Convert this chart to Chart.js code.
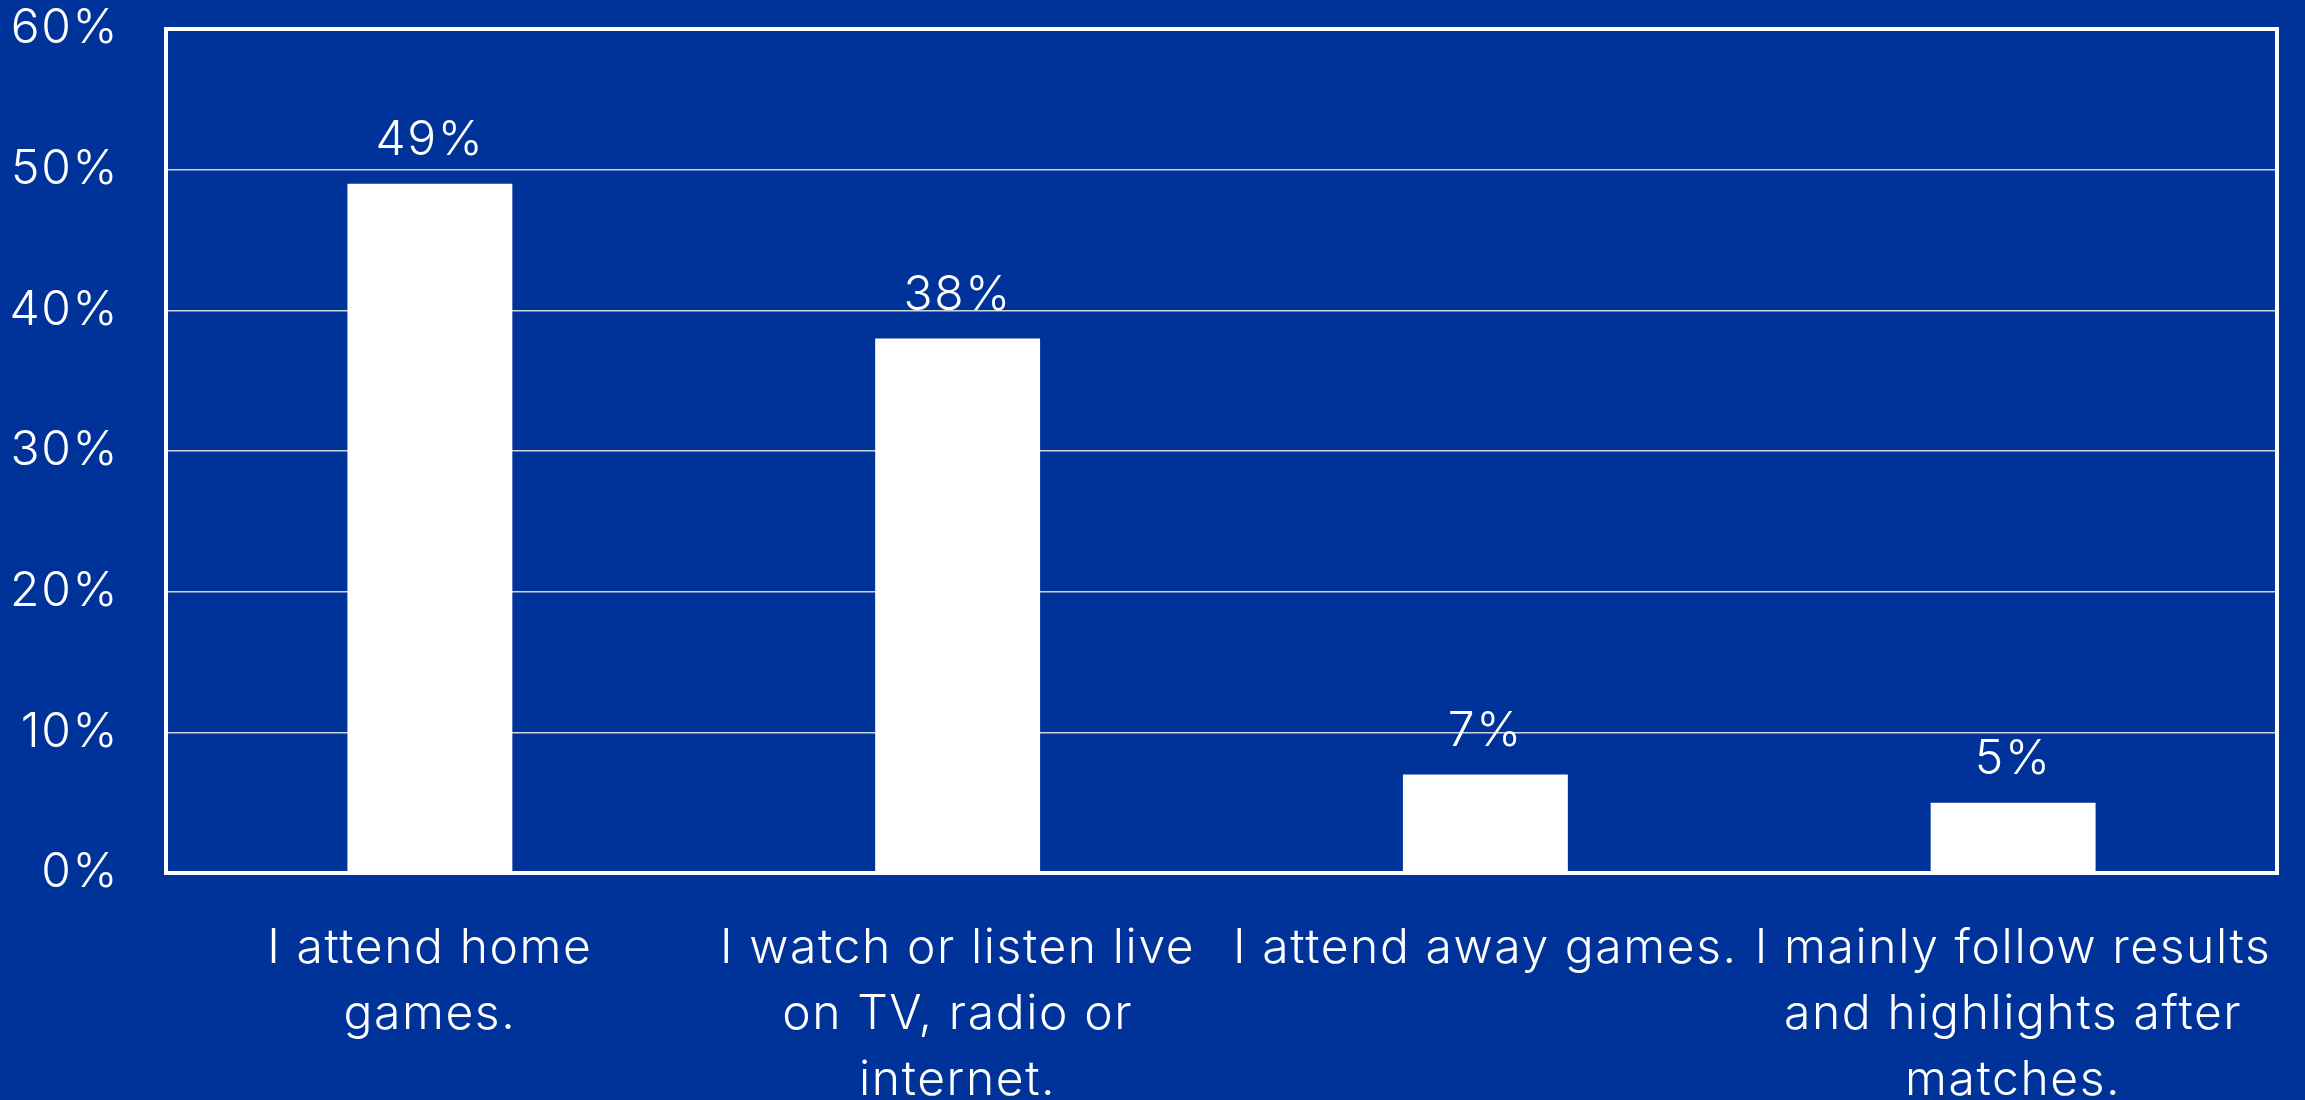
<!DOCTYPE html>
<html>
<head>
<meta charset="utf-8">
<script src="https://cdn.jsdelivr.net/npm/chart.js@4"></script>
<style>
  html, body { margin: 0; padding: 0; background: #003399; overflow: hidden; }
  #wrap { width: 2305px; height: 1100px; }
</style>
</head>
<body>
<div id="wrap"><canvas id="c" width="2305" height="1100"></canvas></div>
<script>
const categories = [
  ["I attend home", "games."],
  ["I watch or listen live", "on TV, radio or", "internet."],
  ["I attend away games."],
  ["I mainly follow results", "and highlights after", "matches."]
];
const values = [49, 38, 7, 5];
const yTicks = [0, 10, 20, 30, 40, 50, 60];

const FONT = "Inter, 'Open Sans', sans-serif";
const TEXT = "#ffffff";
const SPACING = '1.6px';

const spacing = {
  id: 'spacing',
  beforeInit(chart) { chart.ctx.letterSpacing = SPACING; },
  beforeDraw(chart) { chart.ctx.letterSpacing = SPACING; }
};

const frame = {
  id: 'frame',
  afterDatasetsDraw(chart) {
    const a = chart.chartArea, ctx = chart.ctx;
    ctx.save();
    ctx.strokeStyle = '#ffffff';
    ctx.lineWidth = 4;
    ctx.strokeRect(a.left, a.top, a.right - a.left, a.bottom - a.top);
    ctx.restore();
  }
};

const barLabels = {
  id: 'barLabels',
  afterDatasetsDraw(chart) {
    const ctx = chart.ctx;
    const meta = chart.getDatasetMeta(0);
    ctx.save();
    ctx.letterSpacing = SPACING;
    ctx.fillStyle = TEXT;
    ctx.font = "300 48px " + FONT;
    ctx.textAlign = 'center';
    ctx.textBaseline = 'middle';
    meta.data.forEach((el, i) => {
      ctx.fillText(values[i] + '%', el.x, el.y - 43);
    });
    ctx.restore();
  }
};

new Chart(document.getElementById('c'), {
  type: 'bar',
  data: {
    labels: categories,
    datasets: [{
      data: values,
      backgroundColor: '#ffffff',
      borderWidth: 0,
      barPercentage: 0.3125,
      categoryPercentage: 1.0
    }]
  },
  options: {
    responsive: false,
    animation: false,
    devicePixelRatio: 1,
    layout: { padding: { top: 29, right: 28, left: 0, bottom: 0 } },
    plugins: {
      legend: { display: false },
      tooltip: { enabled: false }
    },
    scales: {
      x: {
        grid: { display: false, drawTicks: false },
        border: { display: false },
        ticks: {
          color: TEXT,
          font: { family: FONT, size: 48, weight: 300, lineHeight: 1.37 },
          padding: 43,
          maxRotation: 0,
          autoSkip: false
        },
        afterFit(s) { s.height = 227; s.paddingTop = 0; s.paddingBottom = 0; }
      },
      y: {
        min: 0,
        max: 60,
        afterBuildTicks(s) { s.ticks = yTicks.map(v => ({ value: v })); },
        grid: { color: '#cfd3dc', lineWidth: 1.5, drawTicks: false },
        border: { display: false },
        ticks: {
          color: TEXT,
          font: { family: FONT, size: 48, weight: 300, lineHeight: 1.2 },
          padding: 47,
          callback: v => v + '%'
        },
        afterFit(s) { s.width = 166; s.paddingTop = 0; s.paddingBottom = 0; }
      }
    }
  },
  plugins: [spacing, frame, barLabels]
});
</script>
</body>
</html>
